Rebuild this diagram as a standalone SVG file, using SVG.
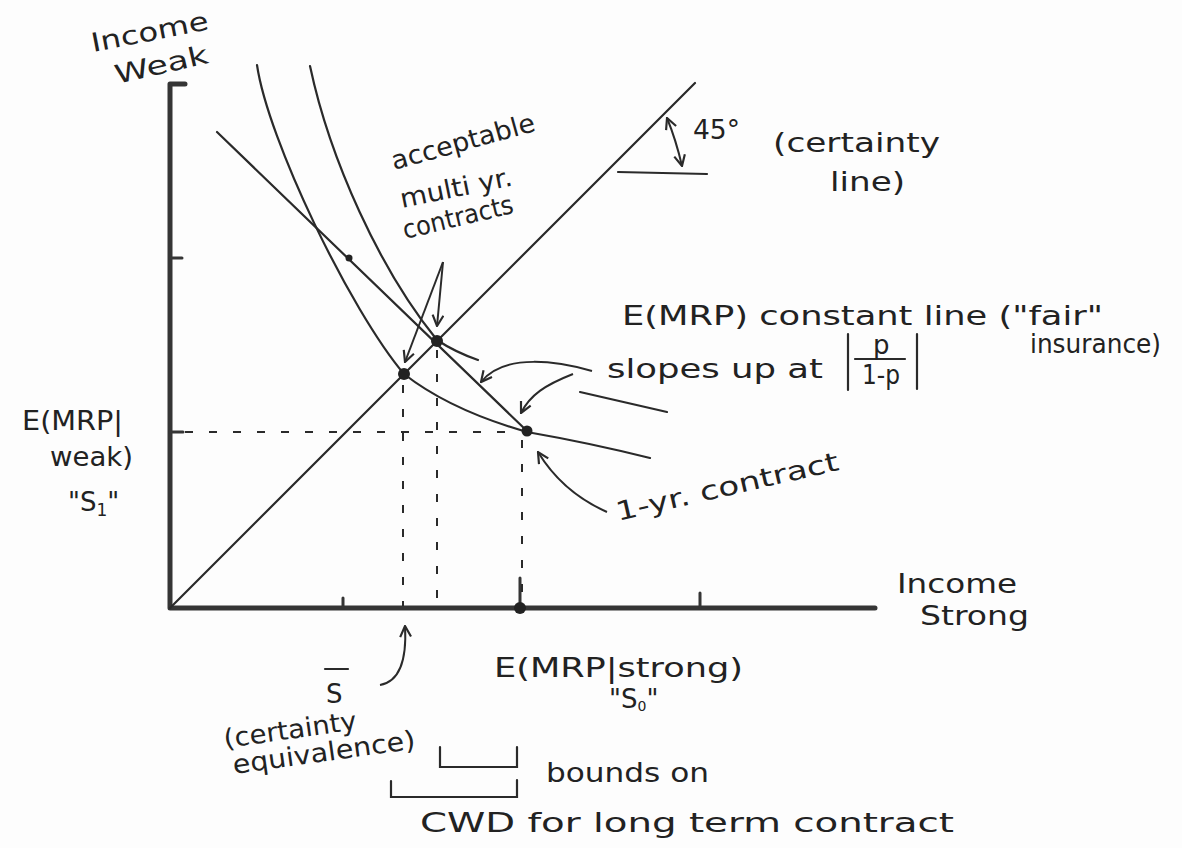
<svg xmlns="http://www.w3.org/2000/svg" width="1182" height="848" viewBox="0 0 1182 848">
<defs>
<marker id="ah" viewBox="0 0 12 12" refX="11" refY="6" markerWidth="13" markerHeight="13" markerUnits="userSpaceOnUse" orient="auto-start-reverse">
<path d="M1,1 L11,6 L1,11" fill="none" stroke="#2a2a2a" stroke-width="2"/>
</marker>
<style>
.ax{stroke:#353535;stroke-width:5;fill:none;stroke-linecap:round;stroke-linejoin:round}
.tk{stroke:#353535;stroke-width:3;fill:none;stroke-linecap:round}
.ln{stroke:#2a2a2a;stroke-width:2.2;fill:none;stroke-linecap:round}
.dash{stroke:#2a2a2a;stroke-width:2;fill:none;stroke-dasharray:8 16}
.arr{stroke:#2a2a2a;stroke-width:2;fill:none;marker-end:url(#ah)}
.t{font-family:"DejaVu Sans","Liberation Sans",sans-serif;fill:#222;font-size:26px}
.dot{fill:#222}
</style>
</defs>
<rect width="1182" height="848" fill="#fdfdfd"/>

<g id="axes">
<path class="ax" d="M185,84 L170,84 L170,608 L875,608"/>
<path class="tk" d="M170,258 L182,258 M170,432 L183,432 M343,608 L343,598 M700,608 L700,593 M520,608 L520,578"/>
<circle class="dot" cx="520" cy="608" r="6"/>
</g>

<g id="connectors">
<path class="ln" d="M170,608 L695,83"/>
<path class="ln" d="M217,132 L527,431"/>
<path class="ln" d="M257,65 C268,140 350,310 404,374 Q450,410 527,432 Q590,443 650,458"/>
<path class="ln" d="M310,66 C330,160 380,270 437,340 Q455,352 478,360"/>
<path class="ln" d="M580,392 L667,412"/>
<path class="dash" d="M185,432 L520,432 M403,385 L403,606 M437,350 L437,606 M522,440 L522,606"/>
<path class="arr" d="M443,262 L405,362"/>
<path class="arr" d="M443,262 L437,326"/>
<path class="arr" d="M592,371 C560,362 505,352 481,382"/>
<path class="arr" d="M573,374 C545,385 530,395 521,413"/>
<path class="arr" d="M607,512 C580,500 555,480 538,452"/>
<path class="arr" d="M380,685 Q408,680 405,626"/>
<path class="arr" d="M667,118 Q676,140 682,166" style="marker-start:url(#ah)"/>
<path class="ln" d="M618,172 L707,174"/>
<path class="ln" d="M440,747 L440,767 L517,767 L517,747"/>
<path class="ln" d="M391,781 L391,797 L517,797 L517,780"/>
</g>

<g id="points">
<circle class="dot" cx="404" cy="374" r="6"/>
<circle class="dot" cx="437" cy="341" r="6"/>
<circle class="dot" cx="527" cy="431" r="5.5"/>
<circle class="dot" cx="349" cy="258" r="3.5"/>
</g>

<g id="label-income-weak">
<text class="t" x="93" y="52" transform="rotate(-11 93 52)" textLength="119" lengthAdjust="spacingAndGlyphs" font-size="30">Income</text>
<text class="t" x="117" y="84" transform="rotate(-13 117 84)" textLength="95" lengthAdjust="spacingAndGlyphs" font-size="30">Weak</text>
</g>
<g id="label-acceptable">
<text class="t" x="394" y="170" transform="rotate(-15.5 394 170)" textLength="148" lengthAdjust="spacingAndGlyphs" font-size="25">acceptable</text>
<text class="t" x="402" y="208" transform="rotate(-11.5 402 208)" textLength="114" lengthAdjust="spacingAndGlyphs" font-size="23">multi yr.</text>
<text class="t" x="405" y="239" transform="rotate(-13.5 405 239)" textLength="113" lengthAdjust="spacingAndGlyphs" font-size="22">contracts</text>
</g>
<g id="label-45">
<text class="t" x="693" y="139" textLength="47" lengthAdjust="spacingAndGlyphs" font-size="30">45°</text>
<text class="t" x="773" y="152" textLength="167" lengthAdjust="spacingAndGlyphs" font-size="29">(certainty</text>
<text class="t" x="830" y="191" textLength="75" lengthAdjust="spacingAndGlyphs" font-size="29">line)</text>
</g>
<g id="label-emrp">
<text class="t" x="622" y="325" textLength="481" lengthAdjust="spacingAndGlyphs" font-size="31">E(MRP) constant line ("fair"</text>
<text class="t" x="1030" y="353" textLength="131" lengthAdjust="spacingAndGlyphs" font-size="23">insurance)</text>
<text class="t" x="607" y="378" textLength="216" lengthAdjust="spacingAndGlyphs" font-size="31">slopes up at</text>
<path class="ln" d="M848,334 L848,390 M917,334 L917,389 M855,359 L905,359" stroke-width="2.5"/>
<text class="t" x="873" y="354" font-size="21">p</text>
<text class="t" x="862" y="384" textLength="38" lengthAdjust="spacingAndGlyphs" font-size="21">1-p</text>
</g>
<g id="label-weak">
<text class="t" x="22" y="430" textLength="101" lengthAdjust="spacingAndGlyphs" font-size="27">E(MRP|</text>
<text class="t" x="50" y="466" textLength="83" lengthAdjust="spacingAndGlyphs" font-size="27">weak)</text>
<text class="t" x="68" y="511" font-size="28">"S<tspan font-size="17" dy="5">1</tspan><tspan dy="-5">"</tspan></text>
</g>
<g id="label-1yr">
<text class="t" x="618" y="521" transform="rotate(-13 618 521)" textLength="228" lengthAdjust="spacingAndGlyphs" font-size="28">1-yr. contract</text>
</g>
<g id="label-income-strong">
<text class="t" x="897" y="593" textLength="120" lengthAdjust="spacingAndGlyphs" font-size="28">Income</text>
<text class="t" x="920" y="625" textLength="109" lengthAdjust="spacingAndGlyphs" font-size="28">Strong</text>
</g>
<g id="label-sbar">
<path class="ln" d="M325,669 L348,669"/>
<text class="t" x="326" y="703" font-size="36">S</text>
</g>
<g id="label-strong">
<text class="t" x="494" y="677" textLength="249" lengthAdjust="spacingAndGlyphs" font-size="31">E(MRP|strong)</text>
<text class="t" x="609" y="708" font-size="22">"S<tspan font-size="14" dy="3">0</tspan><tspan dy="-3">"</tspan></text>
</g>
<g id="label-ce">
<text class="t" x="225" y="748" transform="rotate(-8 225 748)" textLength="134" lengthAdjust="spacingAndGlyphs" font-size="24">(certainty</text>
<text class="t" x="234" y="774" transform="rotate(-8 234 774)" textLength="184" lengthAdjust="spacingAndGlyphs" font-size="27">equivalence)</text>
</g>
<g id="label-bounds">
<text class="t" x="546" y="782" textLength="163" lengthAdjust="spacingAndGlyphs" font-size="29">bounds on</text>
<text class="t" x="420" y="832" textLength="534" lengthAdjust="spacingAndGlyphs" font-size="30">CWD for long term contract</text>
</g>
</svg>
